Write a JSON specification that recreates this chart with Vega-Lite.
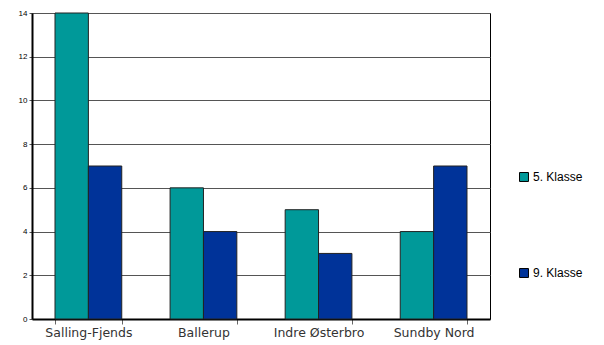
{
  "$schema": "https://vega.github.io/schema/vega-lite/v6.json",
  "width": 458,
  "height": 306,
  "autosize": "none",
  "padding": {"left": 32, "top": 13, "right": 114, "bottom": 26},
  "background": "white",
  "data": {
    "values": [
      {"site": "Salling-Fjends", "klasse": "5. Klasse", "value": 14},
      {"site": "Salling-Fjends", "klasse": "9. Klasse", "value": 7},
      {"site": "Ballerup", "klasse": "5. Klasse", "value": 6},
      {"site": "Ballerup", "klasse": "9. Klasse", "value": 4},
      {"site": "Indre Østerbro", "klasse": "5. Klasse", "value": 5},
      {"site": "Indre Østerbro", "klasse": "9. Klasse", "value": 3},
      {"site": "Sundby Nord", "klasse": "5. Klasse", "value": 4},
      {"site": "Sundby Nord", "klasse": "9. Klasse", "value": 7}
    ]
  },
  "config": {
    "view": {"stroke": "#000", "strokeWidth": 1}
  },
  "mark": {"type": "bar", "stroke": "#222", "strokeWidth": 1},
  "encoding": {
    "x": {
      "field": "site",
      "type": "nominal",
      "sort": null,
      "scale": {"paddingInner": 0.42, "paddingOuter": 0.2},
      "axis": {
        "title": null,
        "labelAngle": 0,
        "labelFont": "DejaVu Sans",
        "labelFontSize": 12.5,
        "labelColor": "#333",
        "labelPadding": 2,
        "domainColor": "#000",
        "domainWidth": 2,
        "tickBand": "extent",
        "tickColor": "#666",
        "tickSize": 5,
        "grid": false
      }
    },
    "xOffset": {"field": "klasse", "type": "nominal"},
    "y": {
      "field": "value",
      "type": "quantitative",
      "scale": {"domain": [0, 14], "nice": false},
      "axis": {
        "title": null,
        "values": [0, 2, 4, 6, 8, 10, 12, 14],
        "labelFont": "Liberation Sans",
        "labelFontSize": 8,
        "labelColor": "#000",
        "labelPadding": 2,
        "domainColor": "#000",
        "domainWidth": 2,
        "tickColor": "#555",
        "tickSize": 3,
        "gridColor": "#555",
        "gridWidth": 1.2,
        "gridOpacity": 1
      }
    },
    "color": {
      "field": "klasse",
      "type": "nominal",
      "scale": {"domain": ["5. Klasse", "9. Klasse"], "range": ["#009999", "#003399"]},
      "legend": {
        "title": null,
        "orient": "none",
        "legendX": 486,
        "legendY": 158,
        "symbolType": "square",
        "symbolSize": 80,
        "symbolStrokeColor": "#000",
        "symbolStrokeWidth": 1,
        "labelFont": "Liberation Sans",
        "labelFontSize": 12,
        "labelColor": "#000",
        "labelOffset": 3,
        "rowPadding": 82
      }
    }
  }
}
